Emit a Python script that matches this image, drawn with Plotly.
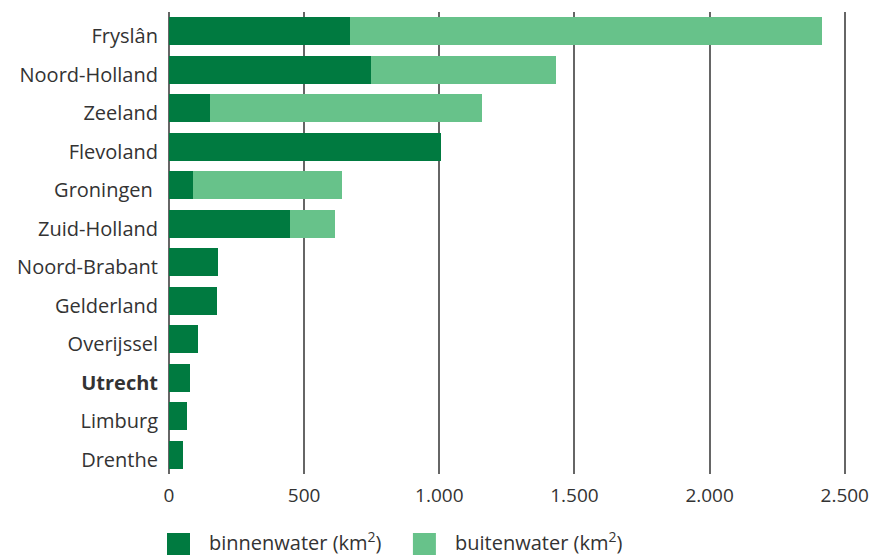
import plotly.graph_objects as go

provinces = ["Fryslân", "Noord-Holland", "Zeeland", "Flevoland", "Groningen", "Zuid-Holland",
             "Noord-Brabant", "Gelderland", "Overijssel", "Utrecht", "Limburg", "Drenthe"]
labels = ["Fryslân", "Noord-Holland", "Zeeland", "Flevoland", "Groningen\u00a0", "Zuid-Holland",
          "Noord-Brabant", "Gelderland", "Overijssel", "<b>Utrecht</b>", "Limburg", "Drenthe"]
binnenwater = [668, 746, 150, 1005, 87, 446, 183, 176, 106, 76, 65, 50]
buitenwater = [1749, 685, 1007, 0, 552, 167, 0, 0, 0, 0, 0, 0]
xticks = [0, 500, 1000, 1500, 2000, 2500]
xticklabels = ["0", "500", "1.000", "1.500", "2.000", "2.500"]
legend_names = ["binnenwater (km<sup>2</sup>)", "buitenwater (km<sup>2</sup>)"]

dark = "#007A40"
light = "#67C28A"
font = "Open Sans"
fs = 20
txt = "#333333"

fig = go.Figure()
fig.add_trace(go.Bar(y=provinces, x=binnenwater, orientation="h", marker_color=dark,
                     marker_line_width=0, name=legend_names[0], showlegend=False))
fig.add_trace(go.Bar(y=provinces, x=buitenwater, orientation="h", marker_color=light,
                     marker_line_width=0, name=legend_names[1], showlegend=False))

W, H = 872, 555
ml, mt = 169, 12
xmax = 2512  # small headroom so the 2.500 gridline is drawn
right_px = 845 + (xmax - 2500) * (845 - 169) / 2500
mr = W - right_px
mb = H - 474

fig.update_layout(
    width=W, height=H, barmode="stack", bargap=0.27,
    margin=dict(l=ml, r=mr, t=mt, b=mb, autoexpand=False),
    paper_bgcolor="white", plot_bgcolor="white",
    font=dict(family=font, size=fs, color=txt),
    xaxis=dict(range=[0, xmax], tickvals=xticks, ticktext=xticklabels,
               showgrid=True, gridcolor="#666666", gridwidth=1.5,
               zeroline=True, zerolinecolor="#666666", zerolinewidth=1.5,
               showline=False, ticks="", ticklabelstandoff=8, automargin=False,
               tickfont=dict(family=font, size=19, color=txt)),
    yaxis=dict(categoryorder="array", categoryarray=provinces[::-1],
               tickvals=provinces, ticktext=labels,
               showgrid=False, showline=False, ticks="", ticklabelstandoff=10,
               ticklabelshift=5, automargin=False,
               tickfont=dict(family=font, size=fs, color=txt)),
)

pw = W - ml - mr
ph = H - mt - mb
def fx(px):
    return (px - ml) / pw
def fy(py):
    return (H - mb - py) / ph

for i, (col, x0, tx) in enumerate([(dark, 167, 207), (light, 413, 453)]):
    fig.add_shape(type="rect", xref="paper", yref="paper",
                  x0=fx(x0), x1=fx(x0 + 23), y0=fy(556), y1=fy(533),
                  fillcolor=col, line_width=0)
    fig.add_annotation(xref="paper", yref="paper", x=fx(tx), y=fy(541),
                       xanchor="left", yanchor="middle",
                       text=legend_names[i], showarrow=False,
                       font=dict(family=font, size=fs, color=txt))

fig.write_html("out.html", config={"displayModeBar": False},
               post_script="document.body.style.margin='0';document.body.style.overflow='hidden';")
